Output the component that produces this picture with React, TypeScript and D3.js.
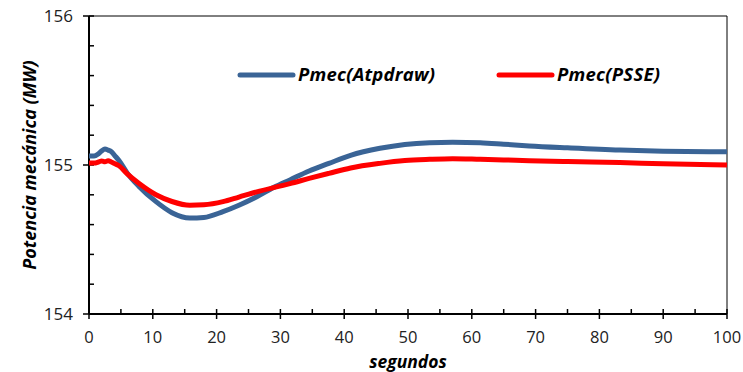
import React, { useEffect, useRef } from 'react';
import * as d3 from 'd3';

// time (s) of the sampled points
const tAtp = [0, 0.8, 1.5, 2, 2.5, 3, 3.5, 4, 4.7, 6, 7.8, 10.5, 13, 15.8, 18, 21, 23.5, 26.3, 29, 31.5, 34.5, 37.6, 41, 45.6, 49.5, 53.4, 57, 61.3, 65, 69, 75, 83.2, 90, 100];
const pAtp = [155.06, 155.06, 155.075, 155.095, 155.107, 155.1, 155.09, 155.065, 155.03, 154.945, 154.858, 154.754, 154.68, 154.644, 154.648, 154.687, 154.73, 154.787, 154.85, 154.9, 154.96, 155.011, 155.065, 155.112, 155.138, 155.15, 155.153, 155.15, 155.14, 155.128, 155.115, 155.1, 155.093, 155.089];

const tPsse = [0, 0.8, 1.5, 2, 2.5, 3, 3.5, 4, 4.7, 6, 7.8, 10.5, 13, 15.8, 18, 21, 23.5, 26.3, 29.9, 31.5, 34.5, 37.6, 41, 45.6, 49.5, 53.4, 57, 61.3, 65, 69, 75, 83.2, 90, 100];
const pPsse = [155.013, 155.013, 155.02, 155.027, 155.022, 155.028, 155.02, 155.01, 154.995, 154.94, 154.877, 154.8, 154.755, 154.73, 154.733, 154.754, 154.785, 154.82, 154.858, 154.875, 154.91, 154.944, 154.98, 155.011, 155.03, 155.038, 155.042, 155.038, 155.034, 155.029, 155.023, 155.016, 155.008, 155.0];

const xTicks = [0, 10, 20, 30, 40, 50, 60, 70, 80, 90, 100];
const yTicks = [154, 155, 156];

const series = [
  { name: 'Pmec(Atpdraw)', t: tAtp, p: pAtp, color: '#3a6496' },
  { name: 'Pmec(PSSE)', t: tPsse, p: pPsse, color: '#ff0000' },
];

const FONT = "'Open Sans', 'Liberation Sans', sans-serif";

const App: React.FC = () => {
  const ref = useRef<SVGSVGElement>(null);

  useEffect(() => {
    if (!ref.current) return;
    const svg = d3.select(ref.current);
    svg.selectAll('*').remove();

    const left = 89, right = 727, top = 16, bottom = 314;
    const x = d3.scaleLinear().domain([0, 100]).range([left, right]);
    const y = d3.scaleLinear().domain([154, 156]).range([bottom, top]);

    // frame (top & right thin)
    svg.append('line').attr('x1', left).attr('x2', right).attr('y1', top).attr('y2', top)
      .attr('stroke', '#000').attr('stroke-width', 1);
    svg.append('line').attr('x1', right).attr('x2', right).attr('y1', top).attr('y2', bottom)
      .attr('stroke', '#000').attr('stroke-width', 1);

    // minor ticks
    d3.range(154, 156.0001, 0.2).forEach(v => {
      svg.append('line').attr('x1', left).attr('x2', left + 5).attr('y1', y(v)).attr('y2', y(v))
        .attr('stroke', '#000').attr('stroke-width', 1.5);
    });
    d3.range(5, 100, 10).forEach(v => {
      svg.append('line').attr('x1', x(v)).attr('x2', x(v)).attr('y1', bottom).attr('y2', bottom - 5)
        .attr('stroke', '#000').attr('stroke-width', 1.5);
    });

    // major ticks
    yTicks.forEach(v => {
      svg.append('line').attr('x1', left - 6).attr('x2', left).attr('y1', y(v)).attr('y2', y(v))
        .attr('stroke', '#000').attr('stroke-width', 1.5);
      svg.append('text').attr('x', left - 16).attr('y', y(v)).attr('dy', '0.35em')
        .attr('text-anchor', 'end').attr('font-family', FONT).attr('font-size', 17)
        .attr('fill', '#222').text(v);
    });
    xTicks.forEach(v => {
      svg.append('line').attr('x1', x(v)).attr('x2', x(v)).attr('y1', bottom - 5).attr('y2', bottom + 5)
        .attr('stroke', '#000').attr('stroke-width', 1.5);
      svg.append('text').attr('x', x(v)).attr('y', 343)
        .attr('text-anchor', 'middle').attr('font-family', FONT).attr('font-size', 16.5)
        .attr('fill', '#222').text(v);
    });

    // axes
    svg.append('line').attr('x1', left).attr('x2', left).attr('y1', top).attr('y2', bottom)
      .attr('stroke', '#000').attr('stroke-width', 2);
    svg.append('line').attr('x1', left).attr('x2', right).attr('y1', bottom).attr('y2', bottom)
      .attr('stroke', '#000').attr('stroke-width', 2);

    // series
    series.forEach(s => {
      const line = d3.line<number>()
        .x((_, i) => x(s.t[i]))
        .y(d => y(d))
        .curve(d3.curveMonotoneX);
      svg.append('path').datum(s.p).attr('d', line)
        .attr('fill', 'none').attr('stroke', s.color).attr('stroke-width', 5);
    });

    // legend
    const legendX = [240, 499];
    series.forEach((s, i) => {
      svg.append('line').attr('x1', legendX[i]).attr('x2', legendX[i] + 53).attr('y1', 75).attr('y2', 75)
        .attr('stroke', s.color).attr('stroke-width', 5).attr('stroke-linecap', 'round');
      svg.append('text').attr('x', legendX[i] + 58).attr('y', 75).attr('dy', '0.35em')
        .attr('font-family', FONT).attr('font-size', 18.5).attr('font-weight', 'bold')
        .attr('font-style', 'italic').attr('fill', '#000').attr('textLength', i === 0 ? 137 : 103)
        .text(s.name);
    });

    // axis titles
    svg.append('text').attr('x', 408).attr('y', 368).attr('text-anchor', 'middle')
      .attr('font-family', FONT).attr('font-size', 17.5).attr('font-weight', 'bold')
      .attr('font-style', 'italic').text('segundos');
    svg.append('text').attr('transform', `translate(30,165) rotate(-90)`).attr('dy', '0.35em')
      .attr('text-anchor', 'middle')
      .attr('font-family', FONT).attr('font-size', 18).attr('font-weight', 'bold')
      .attr('font-style', 'italic').text('Potencia mecánica (MW)');
  }, []);

  return (
    <svg ref={ref} width={743} height={372}
      style={{ position: 'absolute', left: 0, top: 0, background: '#fff' }} />
  );
};

export default App;
